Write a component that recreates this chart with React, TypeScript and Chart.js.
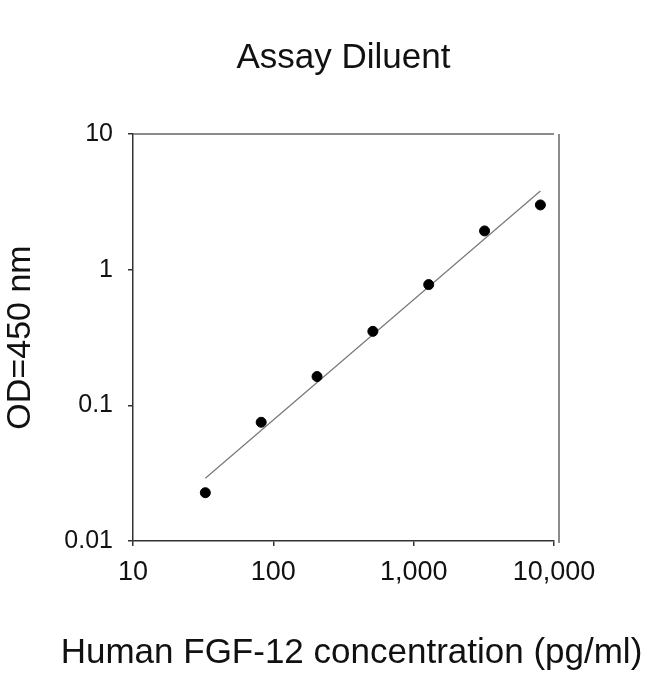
import { useEffect, useRef } from "react"
import { Chart, registerables, type ChartConfiguration, type Plugin } from "chart.js"

Chart.register(...registerables)

// standards: 2.5-fold serial dilution from 8000 pg/ml
const concentrations = [32.768, 81.92, 204.8, 512, 1280, 3200, 8000]
const odValues = [0.0227, 0.075, 0.163, 0.351, 0.776, 1.93, 3.0]

// fitted curve end points (log-log straight line)
const fitX = [32.768, 8000]
const fitY = [0.029, 3.8]

const xTicks = [10, 100, 1000, 10000]
const yTicks = [0.01, 0.1, 1, 10]

const chartTitle = "Assay Diluent"
const xTitle = "Human FGF-12 concentration (pg/ml)"
const yTitle = "OD=450 nm"

const FONT = "'Liberation Sans', Arial, Helvetica, sans-serif"

// top and right border of the plot frame
const framePlugin: Plugin = {
  id: "frame",
  afterDraw(chart) {
    const { ctx, chartArea } = chart
    ctx.save()
    ctx.strokeStyle = "#666"
    ctx.lineWidth = 1.5
    ctx.beginPath()
    ctx.moveTo(chartArea.left, chartArea.top)
    ctx.lineTo(chartArea.right, chartArea.top)
    ctx.moveTo(chartArea.right + 5, chartArea.top)
    ctx.lineTo(chartArea.right + 5, chartArea.bottom + 2)
    ctx.stroke()
    ctx.restore()
  },
}

// x axis title is wider than the plot, so the built-in scale title would squeeze it
const xTitlePlugin: Plugin = {
  id: "xTitle",
  afterDraw(chart) {
    const { ctx, chartArea } = chart
    ctx.save()
    ctx.fillStyle = "#111"
    ctx.font = `35px ${FONT}`
    ctx.textAlign = "center"
    ctx.textBaseline = "alphabetic"
    ctx.fillText(xTitle, (chartArea.left + chartArea.right) / 2 + 8, chart.height - 11)
    ctx.restore()
  },
}

export default function App() {
  const chartRef = useRef<HTMLCanvasElement>(null)
  const chartInstance = useRef<Chart | null>(null)

  useEffect(() => {
    if (!chartRef.current) return
    const ctx = chartRef.current.getContext("2d")
    if (!ctx) return

    if (chartInstance.current) {
      chartInstance.current.destroy()
    }

    const config: ChartConfiguration<"scatter"> = {
      type: "scatter",
      data: {
        datasets: [
          {
            label: "Standards",
            data: concentrations.map((c, i) => ({ x: c, y: odValues[i] })),
            backgroundColor: "#000",
            borderColor: "#000",
            pointRadius: 5,
            pointHoverRadius: 5,
            showLine: false,
          },
          {
            label: "Fit",
            data: fitX.map((x, i) => ({ x, y: fitY[i] })),
            borderColor: "#777",
            borderWidth: 1.2,
            pointRadius: 0,
            showLine: true,
          },
        ],
      },
      options: {
        responsive: false,
        animation: false,
        layout: { padding: { left: 0, top: 0, right: 96, bottom: 0 } },
        plugins: {
          legend: { display: false },
          tooltip: { enabled: false },
          title: {
            display: true,
            text: chartTitle,
            fullSize: false,
            color: "#111",
            font: { family: FONT, size: 35, weight: "normal" },
            padding: { top: 37, bottom: 55 },
          },
        },
        scales: {
          x: {
            type: "logarithmic",
            min: 10,
            max: 10000,
            afterBuildTicks: (scale) => {
              scale.ticks = xTicks.map((v) => ({ value: v }))
            },
            afterFit: (scale) => {
              scale.height = 133
            },
            ticks: {
              color: "#111",
              font: { family: FONT, size: 27 },
              padding: 10,
              maxRotation: 0,
              autoSkip: false,
              callback: (v) => Number(v).toLocaleString("en-US"),
            },
            grid: { drawOnChartArea: false, tickLength: 5, color: "#333", lineWidth: 1.5 },
            border: { color: "#333", width: 1.5 },
          },
          y: {
            type: "logarithmic",
            min: 0.01,
            max: 10,
            afterBuildTicks: (scale) => {
              scale.ticks = yTicks.map((v) => ({ value: v }))
            },
            afterFit: (scale) => {
              scale.width = 133
            },
            ticks: {
              color: "#111",
              font: { family: FONT, size: 25 },
              padding: 15,
              autoSkip: false,
              callback: (v) => String(Number(v)),
            },
            grid: { drawOnChartArea: false, tickLength: 5, color: "#333", lineWidth: 1.5 },
            border: { color: "#333", width: 1.5 },
            title: {
              display: true,
              text: yTitle,
              color: "#111",
              font: { family: FONT, size: 34 },
              padding: { top: 0, bottom: 0 },
            },
          },
        },
      },
      plugins: [framePlugin, xTitlePlugin],
    }

    chartInstance.current = new Chart(ctx, config)

    return () => {
      if (chartInstance.current) {
        chartInstance.current.destroy()
        chartInstance.current = null
      }
    }
  }, [])

  return (
    <div style={{ position: "fixed", left: 0, top: 0, width: 650, height: 674, background: "#fff" }}>
      <canvas ref={chartRef} width={650} height={674} style={{ width: 650, height: 674 }} />
    </div>
  )
}
